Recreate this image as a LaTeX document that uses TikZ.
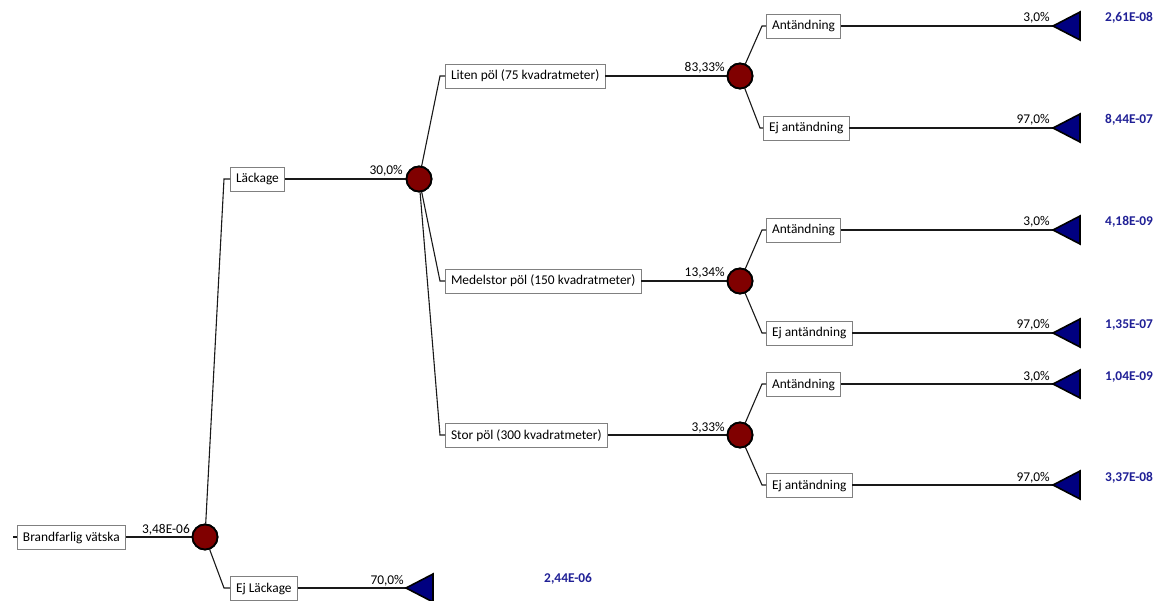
\documentclass[tikz,border=0pt]{standalone}
\usepackage{fontspec}
\setmainfont{Carlito}
\definecolor{boxgray}{RGB}{128,128,128}
\definecolor{nodered}{RGB}{128,0,0}
\definecolor{trinavy}{RGB}{0,0,128}
\definecolor{valblue}{RGB}{32,32,150}
\definecolor{linec}{RGB}{25,25,25}
\begin{document}
\begin{tikzpicture}[x=1pt,y=-1pt,
  every node/.style={font=\fontsize{13.4}{16}\selectfont},
  evbox/.style={draw=boxgray, line width=0.8pt, fill=white, inner xsep=5.6pt, inner ysep=0pt, minimum height=24pt, text height=9pt, text depth=1pt, anchor=west},
  chance/.style={circle, draw=black, line width=1.8pt, fill=nodered, minimum size=25pt, inner sep=0pt},
  conn/.style={draw=linec, line width=1.1pt},
  tri/.style={draw=black, line width=1.6pt, fill=trinavy, line join=miter},
  prob/.style={anchor=base east, inner sep=0pt},
  val/.style={anchor=base west, inner sep=0pt, text=valblue, font=\fontsize{13.4}{16}\selectfont\bfseries}]
\useasboundingbox (0,0) rectangle (1169,601);

% chance nodes
\node[chance] (c0) at (205,537) {};
\node[chance] (c1) at (419,179) {};
\node[chance] (c2) at (740,76) {};
\node[chance] (c3) at (740,281) {};
\node[chance] (c4) at (740,435) {};

% event boxes
\node[evbox] (root) at (17,537) {Brandfarlig vätska};
\node[evbox] (lk) at (230,179) {Läckage};
\node[evbox] (ejlk) at (230,588) {Ej Läckage};
\node[evbox] (liten) at (445,76) {Liten pöl (75 kvadratmeter)};
\node[evbox] (medel) at (445,281) {Medelstor pöl (150 kvadratmeter)};
\node[evbox] (stor) at (445,435) {Stor pöl (300 kvadratmeter)};
\node[evbox] (a1) at (766,26) {Antändning};
\node[evbox] (e1) at (763,128) {Ej antändning};
\node[evbox] (a2) at (766,230) {Antändning};
\node[evbox] (e2) at (766,333) {Ej antändning};
\node[evbox] (a3) at (766,384) {Antändning};
\node[evbox] (e3) at (766,485) {Ej antändning};

% terminal tips
\coordinate (t0) at (406,588);
\coordinate (t1) at (1053,26);
\coordinate (t2) at (1053,128);
\coordinate (t3) at (1053,230);
\coordinate (t4) at (1053,333);
\coordinate (t5) at (1053,384);
\coordinate (t6) at (1053,485);

% elbows
\coordinate (k0) at (224,179);
\coordinate (k1) at (224,588);
\coordinate (k2) at (440,76);
\coordinate (k3) at (440,281);
\coordinate (k4) at (440,435);
\coordinate (k5) at (762,26);
\coordinate (k6) at (760,128);
\coordinate (k7) at (762,230);
\coordinate (k8) at (762,333);
\coordinate (k9) at (762,384);
\coordinate (k10) at (762,485);
\coordinate (start) at (13,537);

% connectors
\draw[conn] (start) -- (root.west);
\draw[conn] (root.east) -- (c0);
\draw[conn] (c0) -- (k0) -- (lk.west);
\draw[conn] (c0) -- (k1) -- (ejlk.west);
\draw[conn] (lk.east) -- (c1);
\draw[conn] (ejlk.east) -- (t0);
\draw[conn] (c1) -- (k2) -- (liten.west);
\draw[conn] (c1) -- (k3) -- (medel.west);
\draw[conn] (c1) -- (k4) -- (stor.west);
\draw[conn] (liten.east) -- (c2);
\draw[conn] (medel.east) -- (c3);
\draw[conn] (stor.east) -- (c4);
\draw[conn] (c2) -- (k5) -- (a1.west);
\draw[conn] (c2) -- (k6) -- (e1.west);
\draw[conn] (c3) -- (k7) -- (a2.west);
\draw[conn] (c3) -- (k8) -- (e2.west);
\draw[conn] (c4) -- (k9) -- (a3.west);
\draw[conn] (c4) -- (k10) -- (e3.west);
\draw[conn] (a1.east) -- (t1);
\draw[conn] (e1.east) -- (t2);
\draw[conn] (a2.east) -- (t3);
\draw[conn] (e2.east) -- (t4);
\draw[conn] (a3.east) -- (t5);
\draw[conn] (e3.east) -- (t6);

% redraw chance nodes on top
\foreach \c in {c0,c1,c2,c3,c4}{
  \fill[nodered] (\c) circle (12.5pt);
  \draw[black, line width=1.8pt] (\c) circle (12.5pt);
}

% terminal triangles
\foreach \t in {t0,t1,t2,t3,t4,t5,t6}{
  \draw[tri] (\t) -- ++(27,-14) -- ++(0,28) -- cycle;
}

% probabilities
\node[prob] (p0) at ([xshift=-15pt,yshift=4pt]c0.center) {3,48E-06};
\node[prob] (p1) at ([xshift=-16pt,yshift=4pt]c1.center) {30,0\%};
\node[prob] (p2) at ([xshift=-15pt,yshift=4pt]c2.center) {83,33\%};
\node[prob] (p3) at ([xshift=-15pt,yshift=4pt]c3.center) {13,34\%};
\node[prob] (p4) at ([xshift=-15pt,yshift=4pt]c4.center) {3,33\%};
\node[prob] (q0) at ([xshift=-2pt,yshift=4pt]t0) {70,0\%};
\node[prob] (q1) at ([xshift=-3pt,yshift=4pt]t1) {3,0\%};
\node[prob] (q2) at ([xshift=-3pt,yshift=4pt]t2) {97,0\%};
\node[prob] (q3) at ([xshift=-3pt,yshift=4pt]t3) {3,0\%};
\node[prob] (q4) at ([xshift=-3pt,yshift=4pt]t4) {97,0\%};
\node[prob] (q5) at ([xshift=-3pt,yshift=4pt]t5) {3,0\%};
\node[prob] (q6) at ([xshift=-3pt,yshift=4pt]t6) {97,0\%};

% values
\node[val] (v0) at (544,582) {2,44E-06};
\node[val] (v1) at (1105,22) {2,61E-08};
\node[val] (v2) at (1105,124) {8,44E-07};
\node[val] (v3) at (1105,226) {4,18E-09};
\node[val] (v4) at (1105,329) {1,35E-07};
\node[val] (v5) at (1105,380) {1,04E-09};
\node[val] (v6) at (1105,481) {3,37E-08};
\end{tikzpicture}
\end{document}
